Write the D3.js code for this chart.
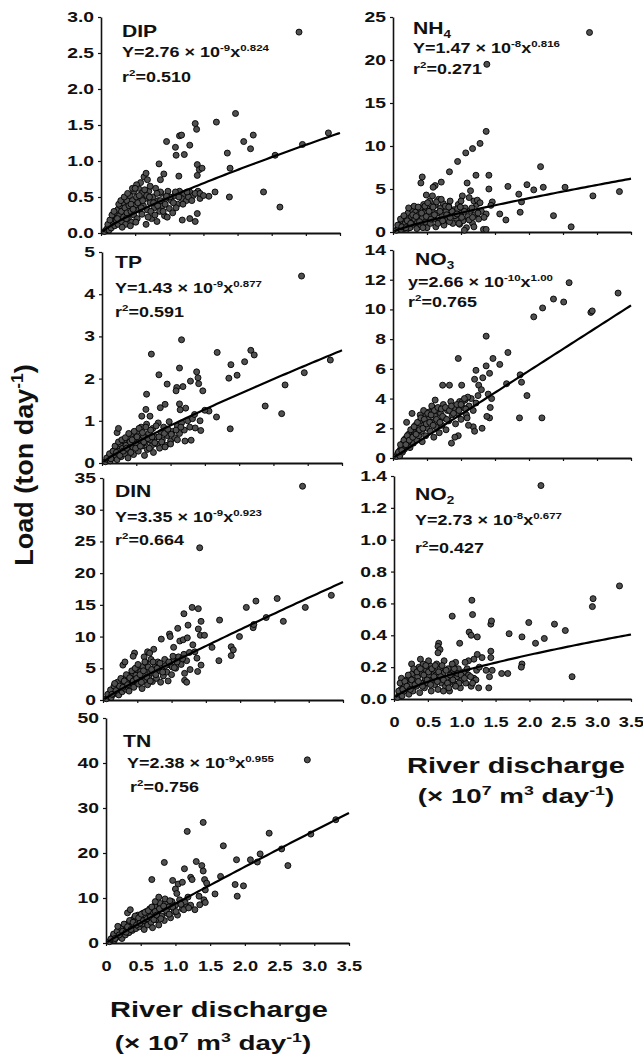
<!DOCTYPE html>
<html>
<head>
<meta charset="utf-8">
<script src="https://cdn.jsdelivr.net/npm/d3@7"></script>
<style>
  body { margin: 0; background: #fff; }
  svg text { font-family: "Liberation Sans", Arial, sans-serif; font-weight: bold; fill: #111; }
</style>
</head>
<body>
<svg id="chart" width="643" height="1054"></svg>
<script>
// ---- data: [discharge (x10^7 m3/day), load (ton/day)] ----
const dipPoints = [
  [0.05,0.02],[0.08,0.05],[0.10,0.08],[0.12,0.04],[0.14,0.12],[0.15,0.07],[0.18,0.15],[0.18,0.22],[0.20,0.10],[0.22,0.28],
  [0.22,0.18],[0.25,0.33],[0.25,0.12],[0.27,0.24],[0.28,0.38],[0.30,0.16],[0.30,0.30],[0.32,0.42],[0.33,0.22],[0.35,0.35],
  [0.36,0.12],[0.38,0.45],[0.38,0.28],[0.40,0.20],[0.41,0.38],[0.42,0.52],[0.44,0.30],[0.45,0.15],[0.46,0.45],[0.48,0.58],
  [0.48,0.25],[0.50,0.38],[0.52,0.50],[0.53,0.20],[0.55,0.62],[0.55,0.32],[0.57,0.44],[0.58,0.70],[0.60,0.26],[0.60,0.55],
  [0.62,0.38],[0.63,0.78],[0.65,0.48],[0.66,0.12],[0.68,0.32],[0.70,0.58],[0.72,0.42],[0.74,0.20],[0.76,0.50],[0.78,0.35],
  [0.80,0.62],[0.82,0.16],[0.84,0.45],[0.86,0.30],[0.88,0.55],[0.90,0.38],[0.93,0.24],[0.95,0.48],[0.98,0.58],[1.00,0.34],
  [1.03,0.45],[1.05,0.28],[1.08,0.52],[1.12,0.40],[1.15,0.58],[1.18,0.48],[1.22,0.55],[1.25,0.45],[1.30,0.57],[1.35,0.52],
  [1.42,0.58],[1.45,0.48],[0.46,0.62],[0.52,0.67],
  [0.10,0.12],[0.13,0.18],[0.16,0.25],[0.19,0.30],[0.24,0.20],[0.26,0.40],[0.29,0.45],[0.31,0.08],[0.34,0.50],[0.37,0.20],
  [0.39,0.55],[0.43,0.10],[0.44,0.40],[0.47,0.33],[0.50,0.62],[0.51,0.15],[0.54,0.42],[0.56,0.52],[0.59,0.35],[0.61,0.45],
  [0.64,0.60],[0.67,0.52],[0.69,0.22],[0.71,0.50],[0.73,0.30],[0.77,0.42],[0.79,0.25],[0.83,0.38],[0.87,0.45],[0.91,0.30],
  [0.94,0.40],[0.97,0.22],[1.01,0.50],[1.06,0.42],[1.10,0.35],[1.14,0.50],[1.20,0.40],[1.28,0.50],[1.33,0.45],[1.38,0.55],
  [2.90,2.79],[3.33,1.39],[2.95,1.23],[2.55,1.08],[1.97,1.66],[1.69,1.54],[2.23,1.36],[2.09,1.27],[2.19,1.17],[1.85,1.11],
  [1.89,0.90],[2.38,0.57],[2.62,0.36],[1.88,0.50],[1.67,0.57],[1.58,0.51],[1.38,1.52],[1.40,1.44],[1.30,1.22],[1.15,1.35],
  [1.18,1.36],[0.96,1.27],[1.09,1.19],[1.10,1.08],[1.22,1.09],[0.85,0.96],[1.41,0.95],[1.44,0.88],[1.48,0.90],[1.41,0.80],
  [1.14,0.79],[0.92,0.82],[0.87,0.74],[0.66,0.83],[0.68,0.74],[0.72,0.65],[1.41,0.27],[1.30,0.20],[1.38,0.16],[1.19,0.18],
  [1.45,0.55],[1.50,0.52],[1.26,0.57],[1.09,0.57],[0.96,0.51],[0.87,0.57],[0.82,0.55]
];
const nh4Points = [
  [0.05,0.2],[0.08,0.5],[0.10,0.9],[0.12,0.3],[0.14,1.3],[0.15,0.6],[0.18,1.0],[0.20,1.6],[0.20,0.3],[0.22,2.2],
  [0.24,1.2],[0.25,0.5],[0.27,1.8],[0.28,2.6],[0.30,0.9],[0.32,1.5],[0.33,2.3],[0.35,0.4],[0.36,1.1],[0.38,2.0],
  [0.40,2.7],[0.41,0.8],[0.43,1.6],[0.45,3.2],[0.46,2.3],[0.48,1.2],[0.50,0.5],[0.50,2.8],[0.52,1.9],[0.54,3.6],
  [0.55,1.0],[0.57,2.5],[0.58,4.2],[0.60,1.5],[0.62,3.1],[0.63,0.6],[0.65,2.2],[0.67,3.8],[0.68,1.2],[0.70,2.8],
  [0.72,1.8],[0.74,3.3],[0.75,0.8],[0.78,2.4],[0.80,1.4],[0.82,3.0],[0.85,2.0],[0.88,1.0],[0.90,2.6],[0.93,1.6],
  [0.96,3.2],[0.98,0.9],[1.00,2.2],[1.03,1.3],[1.06,2.8],[1.08,0.5],[1.10,1.8],[1.14,2.5],[1.17,1.0],[1.20,2.0],
  [1.23,3.2],[1.26,1.5],[1.30,2.4],[1.33,0.3],
  [0.07,0.8],[0.11,1.5],[0.13,0.6],[0.16,1.9],[0.19,0.5],[0.21,1.3],[0.23,2.8],[0.26,1.0],[0.29,2.0],[0.31,3.0],
  [0.34,1.8],[0.37,2.9],[0.39,1.2],[0.42,2.2],[0.44,0.5],[0.47,3.0],[0.49,1.8],[0.51,3.4],[0.53,2.4],[0.56,1.5],
  [0.59,2.9],[0.61,2.0],[0.64,3.5],[0.66,1.0],[0.69,2.4],[0.71,3.8],[0.73,1.3],[0.77,3.0],[0.79,2.0],[0.83,1.2],
  [0.87,2.4],[0.91,1.9],[0.95,2.7],[1.01,1.7],[1.05,2.4],[1.12,1.4],[1.16,2.8],[1.25,2.2],
  [2.89,23.2],[1.38,19.5],[1.37,11.7],[1.28,10.3],[1.17,9.7],[1.07,9.2],[0.95,8.2],[0.83,7.0],[0.71,5.8],[0.62,5.4],
  [0.59,5.2],[0.43,6.4],[0.41,5.7],[0.49,4.3],[1.22,6.6],[1.41,6.6],[1.41,5.0],[1.09,5.7],[1.14,4.8],[1.69,5.3],
  [1.97,5.5],[2.07,4.9],[2.21,5.2],[2.17,7.6],[2.53,5.2],[2.94,4.2],[3.33,4.7],[1.85,4.4],[1.89,3.5],[1.87,2.3],
  [1.57,2.1],[1.66,1.4],[2.36,1.9],[2.62,0.6],[1.37,0.3],[1.46,3.5],[1.44,3.1],[1.37,2.1],[1.34,1.7],[1.02,4.2],
  [1.00,3.6],[1.12,4.0],[1.19,3.6],[1.24,3.7],[1.28,3.4],[0.84,3.6],[0.82,2.9],[0.99,2.9],[0.94,2.1],[0.84,1.7],
  [1.17,1.7],[1.19,0.6],[0.97,1.0],[1.05,0.2]
];
const tpPoints = [
  [0.05,0.03],[0.08,0.08],[0.10,0.15],[0.12,0.05],[0.14,0.22],[0.15,0.12],[0.18,0.30],[0.20,0.18],[0.22,0.38],[0.22,0.08],
  [0.25,0.28],[0.27,0.45],[0.28,0.15],[0.30,0.35],[0.32,0.52],[0.33,0.22],[0.35,0.42],[0.37,0.60],[0.38,0.12],[0.40,0.30],
  [0.41,0.50],[0.43,0.68],[0.45,0.38],[0.46,0.20],[0.48,0.58],[0.50,0.45],[0.52,0.75],[0.53,0.28],[0.55,0.55],[0.57,0.85],
  [0.58,0.40],[0.60,0.65],[0.62,0.18],[0.63,0.48],[0.65,0.92],[0.66,0.32],[0.68,0.70],[0.70,0.55],[0.72,0.40],[0.74,0.82],
  [0.75,0.25],[0.78,0.62],[0.80,0.45],[0.82,0.95],[0.84,0.35],[0.86,0.72],[0.88,0.55],[0.90,0.85],[0.93,0.42],[0.95,0.65],
  [0.98,0.98],[1.00,0.52],[1.03,0.75],[1.06,0.60],[1.10,0.88],[1.13,0.70],[1.16,0.95],[1.20,0.78],[1.25,1.00],[1.28,0.85],
  [1.32,1.05],[0.22,0.72],[0.24,0.82],
  [0.07,0.12],[0.11,0.22],[0.13,0.10],[0.16,0.28],[0.19,0.40],[0.21,0.25],[0.24,0.50],[0.26,0.18],[0.29,0.55],[0.31,0.28],
  [0.34,0.60],[0.36,0.35],[0.39,0.70],[0.42,0.25],[0.44,0.55],[0.47,0.75],[0.49,0.35],[0.51,0.62],[0.54,0.82],[0.56,0.40],
  [0.59,0.72],[0.61,0.50],[0.64,0.85],[0.67,0.58],[0.69,0.35],[0.71,0.78],[0.73,0.62],[0.77,0.48],[0.79,0.88],[0.83,0.62],
  [0.87,0.50],[0.91,0.70],[0.96,0.80],[1.01,0.68],[1.08,0.78],[1.15,0.85],
  [2.91,4.43],[1.16,2.92],[0.72,2.58],[1.68,2.62],[2.17,2.67],[2.22,2.56],[3.33,2.44],[2.08,2.40],[1.88,2.33],[2.95,2.14],
  [1.97,2.08],[1.85,2.01],[0.83,2.09],[1.13,2.25],[1.38,2.16],[1.40,2.02],[1.41,1.88],[1.29,1.94],[1.18,1.81],[1.09,1.79],
  [1.08,1.71],[0.95,1.87],[1.47,1.71],[0.65,1.63],[0.92,1.39],[0.85,1.31],[1.13,1.40],[1.22,1.30],[1.14,1.26],[0.64,1.27],
  [0.58,1.11],[0.70,1.11],[2.67,1.85],[2.38,1.35],[2.62,1.17],[1.67,1.09],[1.87,0.81],[1.56,1.23],[1.43,1.00],[1.44,0.77],
  [1.36,0.83],[1.30,0.54],[1.21,0.52],[1.10,0.55],[1.00,0.45],[0.92,0.38],[1.50,1.25],[1.35,1.15]
];
const no3Points = [
  [0.05,0.1],[0.07,0.3],[0.10,0.5],[0.10,0.15],[0.12,0.7],[0.14,0.4],[0.15,1.0],[0.17,0.6],[0.18,1.3],[0.20,0.8],
  [0.22,1.1],[0.23,1.6],[0.25,0.7],[0.27,1.4],[0.28,1.9],[0.30,1.0],[0.32,1.7],[0.33,2.2],[0.35,1.2],[0.37,2.0],
  [0.38,1.5],[0.40,2.5],[0.42,1.8],[0.43,1.1],[0.45,2.2],[0.47,2.8],[0.48,1.5],[0.50,2.0],[0.52,2.6],[0.53,3.1],
  [0.55,1.8],[0.57,2.4],[0.58,3.4],[0.60,1.4],[0.62,2.8],[0.63,2.1],[0.65,3.2],[0.67,2.5],[0.68,1.7],[0.70,3.0],
  [0.72,2.2],[0.74,3.6],[0.75,2.7],[0.78,1.9],[0.80,3.2],[0.82,2.5],[0.85,3.8],[0.87,2.9],[0.90,3.4],[0.92,2.3],
  [0.95,3.0],[0.98,3.8],[1.00,2.6],[1.03,3.4],[1.06,3.9],[1.08,2.9],[1.12,3.5],[1.15,4.0],[1.18,3.2],[1.22,3.7],
  [0.57,3.5],[0.62,3.9],[0.28,3.0],[0.20,2.4],[0.40,2.9],[0.45,3.2],
  [0.08,0.4],[0.11,0.9],[0.13,0.5],[0.16,1.2],[0.19,0.9],[0.21,1.5],[0.24,1.2],[0.26,1.9],[0.29,1.4],[0.31,2.1],
  [0.34,1.6],[0.36,2.4],[0.39,1.9],[0.41,2.7],[0.44,2.0],[0.46,2.6],[0.49,2.3],[0.51,3.0],[0.54,2.4],[0.56,2.9],
  [0.59,2.2],[0.61,3.2],[0.64,2.6],[0.66,3.4],[0.69,2.4],[0.71,3.3],[0.73,2.8],[0.77,3.4],[0.79,2.6],[0.83,3.2],
  [0.86,3.5],[0.89,3.0],[0.94,3.6],[0.97,3.2],[1.02,3.8],[1.07,3.3],[1.10,4.1],
  [2.59,11.8],[3.31,11.1],[2.36,10.7],[2.51,10.5],[2.20,10.1],[2.07,9.5],[2.91,9.8],[2.93,9.9],[1.37,8.2],[0.96,6.7],
  [1.69,7.1],[1.47,6.7],[1.57,6.3],[1.22,5.9],[1.37,6.2],[1.42,5.7],[1.32,5.4],[1.20,5.3],[1.26,4.9],[0.73,4.9],
  [0.83,4.9],[1.01,4.9],[1.67,5.0],[1.87,5.6],[1.89,5.1],[1.97,4.2],[1.86,2.7],[2.19,2.7],[1.31,2.0],[1.43,3.4],
  [1.42,2.7],[1.38,2.8],[1.18,2.1],[1.20,1.8],[1.11,2.2],[1.09,2.7],[0.96,1.5],[0.86,1.0],[0.91,1.4],[1.40,4.3],
  [1.30,4.6],[1.45,4.0],[1.25,4.2],[1.05,4.0],[1.00,3.6]
];
const dinPoints = [
  [0.05,0.2],[0.08,0.6],[0.10,1.0],[0.12,0.4],[0.14,1.5],[0.15,0.9],[0.18,2.0],[0.20,1.2],[0.22,2.6],[0.23,0.8],
  [0.25,1.8],[0.27,3.0],[0.28,1.3],[0.30,2.4],[0.32,3.4],[0.33,1.7],[0.35,2.9],[0.37,3.8],[0.38,1.4],[0.40,2.3],
  [0.41,3.3],[0.43,4.3],[0.45,2.0],[0.46,3.0],[0.48,3.9],[0.50,4.8],[0.52,2.5],[0.53,3.5],[0.55,4.5],[0.57,1.8],
  [0.58,5.3],[0.60,3.0],[0.62,4.0],[0.63,5.8],[0.65,2.4],[0.67,3.5],[0.68,4.8],[0.70,6.4],[0.72,2.9],[0.74,4.2],
  [0.76,5.5],[0.78,3.4],[0.80,6.0],[0.82,4.6],[0.84,2.8],[0.86,5.2],[0.88,3.8],[0.90,6.4],[0.93,4.4],[0.95,3.0],
  [0.98,5.5],[1.00,4.0],[1.03,6.3],[1.06,5.0],[1.10,6.8],[1.14,5.6],[1.18,7.2],[1.22,6.2],[1.26,7.5],[0.60,6.8],
  [0.65,7.6],
  [0.07,0.9],[0.11,1.6],[0.13,0.9],[0.16,2.2],[0.19,1.5],[0.21,2.8],[0.24,2.2],[0.26,3.4],[0.29,2.0],[0.31,3.0],
  [0.34,4.0],[0.36,2.4],[0.39,3.5],[0.42,4.6],[0.44,3.0],[0.47,5.0],[0.49,3.4],[0.51,5.6],[0.54,4.0],[0.56,2.8],
  [0.59,4.6],[0.61,6.0],[0.64,3.6],[0.66,5.2],[0.69,3.0],[0.71,4.8],[0.73,6.0],[0.77,4.0],[0.79,5.0],[0.83,5.8],
  [0.87,4.4],[0.91,5.4],[0.96,6.0],[1.01,5.2],[1.08,6.0],[1.16,6.5],
  [2.91,33.7],[1.41,24.0],[3.33,16.5],[2.54,16.0],[2.95,14.6],[2.23,15.6],[2.09,14.6],[1.70,12.6],[2.63,12.4],[2.38,13.0],
  [2.19,11.4],[2.20,11.9],[1.30,14.6],[1.39,14.4],[1.18,13.6],[1.24,11.8],[1.09,11.3],[0.97,10.4],[0.98,10.0],[0.85,9.6],
  [1.12,9.3],[1.17,9.5],[1.23,9.8],[1.39,11.2],[1.43,12.4],[1.42,10.2],[1.48,10.2],[1.99,10.0],[1.87,8.4],[1.90,7.9],
  [1.59,8.3],[1.69,6.2],[1.87,7.0],[1.31,8.7],[1.34,7.6],[1.37,6.6],[1.43,5.5],[1.38,4.5],[1.03,8.3],[1.02,6.9],
  [1.04,5.1],[1.19,4.2],[1.19,3.1],[1.22,2.8],[0.74,8.0],[0.68,7.4],[0.46,7.4],[0.44,6.9],[0.29,5.5],[0.32,6.0],
  [0.17,2.6],[1.27,4.8]
];
const no2Points = [
  [0.05,0.01],[0.08,0.03],[0.10,0.06],[0.12,0.02],[0.14,0.09],[0.15,0.05],[0.18,0.12],[0.20,0.07],[0.22,0.03],[0.23,0.14],
  [0.25,0.09],[0.27,0.16],[0.28,0.05],[0.30,0.12],[0.32,0.18],[0.33,0.08],[0.35,0.14],[0.37,0.20],[0.38,0.04],[0.40,0.10],
  [0.41,0.16],[0.43,0.22],[0.45,0.07],[0.46,0.13],[0.48,0.18],[0.50,0.10],[0.52,0.15],[0.53,0.21],[0.55,0.05],[0.57,0.12],
  [0.58,0.18],[0.60,0.09],[0.62,0.15],[0.63,0.22],[0.65,0.06],[0.67,0.12],[0.68,0.19],[0.70,0.10],[0.72,0.16],[0.74,0.24],
  [0.76,0.08],[0.78,0.13],[0.80,0.19],[0.82,0.05],[0.84,0.11],[0.86,0.16],[0.88,0.22],[0.90,0.09],[0.93,0.14],[0.95,0.19],
  [0.98,0.07],[1.00,0.12],[1.03,0.17],[1.06,0.10],[1.10,0.15],[1.14,0.08],[1.18,0.13],[1.22,0.18],[0.26,0.22],[0.39,0.25],
  [0.51,0.24],[0.11,0.13],
  [0.07,0.05],[0.09,0.10],[0.13,0.06],[0.16,0.11],[0.19,0.08],[0.21,0.15],[0.24,0.06],[0.26,0.12],[0.29,0.19],[0.31,0.09],
  [0.34,0.17],[0.36,0.11],[0.39,0.19],[0.42,0.08],[0.44,0.15],[0.47,0.21],[0.49,0.12],[0.51,0.17],[0.54,0.09],[0.56,0.19],
  [0.59,0.14],[0.61,0.21],[0.64,0.11],[0.66,0.17],[0.69,0.14],[0.71,0.21],[0.73,0.12],[0.77,0.18],[0.79,0.10],[0.83,0.15],
  [0.87,0.12],[0.89,0.19],[0.94,0.16],[0.99,0.15],[1.04,0.13],[1.08,0.19],[1.13,0.14],
  [2.17,1.34],[3.33,0.71],[2.94,0.63],[2.93,0.58],[1.15,0.62],[1.16,0.53],[0.86,0.52],[1.99,0.48],[2.37,0.47],[2.53,0.43],
  [1.70,0.41],[1.43,0.47],[1.44,0.49],[1.11,0.42],[1.14,0.40],[1.23,0.39],[0.97,0.35],[1.89,0.39],[2.09,0.35],[2.22,0.38],
  [2.63,0.14],[1.89,0.22],[1.88,0.20],[1.59,0.16],[1.68,0.16],[1.25,0.07],[1.40,0.07],[0.66,0.35],[0.65,0.33],[0.68,0.31],
  [0.65,0.29],[1.43,0.30],[1.43,0.26],[1.30,0.26],[1.23,0.28],[1.18,0.25],[1.10,0.24],[1.05,0.23],[0.91,0.23],[0.86,0.22],
  [1.26,0.20],[1.36,0.18],[1.45,0.18],[1.41,0.14],[1.21,0.12],[1.16,0.10],[0.96,0.10],[0.91,0.08],[0.81,0.07],[0.73,0.05]
];
const tnPoints = [
  [0.05,0.3],[0.08,0.8],[0.10,1.4],[0.12,0.6],[0.14,2.0],[0.15,1.2],[0.18,2.6],[0.20,1.6],[0.22,3.2],[0.23,1.0],
  [0.25,2.3],[0.27,3.8],[0.28,1.8],[0.30,3.0],[0.32,4.4],[0.33,2.3],[0.35,3.6],[0.37,5.0],[0.38,2.8],[0.40,4.2],
  [0.41,5.6],[0.43,3.2],[0.45,4.8],[0.46,6.2],[0.48,3.6],[0.50,5.4],[0.52,4.2],[0.53,6.6],[0.55,3.0],[0.57,5.0],
  [0.58,7.0],[0.60,4.0],[0.62,6.0],[0.63,7.6],[0.65,4.6],[0.67,3.4],[0.68,6.6],[0.70,8.2],[0.72,5.2],[0.74,7.0],
  [0.76,4.0],[0.78,8.8],[0.80,6.0],[0.82,7.6],[0.84,5.0],[0.86,9.0],[0.88,6.6],[0.90,8.0],[0.93,5.6],[0.95,9.2],
  [0.98,7.0],[1.00,8.4],[1.03,6.2],[1.06,9.6],[1.10,7.6],[1.14,9.0],[1.18,10.2],[1.22,8.4],
  [0.07,0.9],[0.11,2.0],[0.13,1.0],[0.16,2.6],[0.19,1.8],[0.21,3.4],[0.24,2.6],[0.26,4.2],[0.29,2.4],[0.31,3.6],
  [0.34,5.0],[0.36,3.0],[0.39,4.6],[0.42,6.0],[0.44,4.0],[0.47,5.6],[0.49,4.4],[0.51,6.4],[0.54,5.0],[0.56,6.8],
  [0.59,5.4],[0.61,7.2],[0.64,5.8],[0.66,8.0],[0.69,5.2],[0.71,7.0],[0.73,6.2],[0.77,7.6],[0.79,5.4],[0.83,8.2],
  [0.87,7.2],[0.91,6.4],[0.96,8.0],[1.01,7.0],[1.08,8.6],[1.16,8.0],
  [2.90,40.7],[1.40,26.8],[1.17,24.8],[2.35,24.4],[3.31,27.4],[2.95,24.2],[1.69,21.6],[2.53,20.9],[2.62,17.2],[0.84,17.9],
  [1.30,18.1],[1.38,17.2],[1.40,16.0],[1.13,16.5],[1.88,18.5],[2.08,18.5],[2.22,19.8],[2.18,18.0],[0.66,14.1],[0.96,13.9],
  [1.04,13.1],[1.10,13.5],[1.22,14.6],[1.24,14.1],[1.42,14.1],[1.45,13.3],[1.43,11.8],[1.57,10.9],[1.86,13.0],[1.89,10.4],
  [1.98,12.7],[1.00,12.0],[1.02,11.0],[0.71,9.2],[0.85,9.8],[0.92,9.4],[1.12,7.4],[1.19,7.8],[1.28,7.4],[1.35,8.5],
  [1.41,9.6],[1.43,9.0],[1.34,10.4],[1.65,14.8],[0.17,3.7],[0.31,6.7],[0.35,7.4],[0.76,10.2]
];

// tick values
const xTicks = [0, 0.5, 1.0, 1.5, 2.0, 2.5, 3.0, 3.5];
const dipTicks = [0, 0.5, 1.0, 1.5, 2.0, 2.5, 3.0];
const nh4Ticks = [0, 5, 10, 15, 20, 25];
const tpTicks = [0, 1, 2, 3, 4, 5];
const no3Ticks = [0, 2, 4, 6, 8, 10, 12, 14];
const dinTicks = [0, 5, 10, 15, 20, 25, 30, 35];
const no2Ticks = [0, 0.2, 0.4, 0.6, 0.8, 1.0, 1.2, 1.4];
const tnTicks = [0, 10, 20, 30, 40, 50];

// regression: [exponent, fitted load at x = 3.5 as drawn]
const dipFit = [0.824, 1.39];
const nh4Fit = [0.816, 6.2];
const tpFit = [0.877, 2.67];
const no3Fit = [1.00, 10.27];
const dinFit = [0.923, 18.6];
const no2Fit = [0.677, 0.405];
const tnFit = [0.955, 28.9];

// equation text: [Y letter, coefficient, power of ten, exponent, r2]
const dipEq = ['Y', '2.76', '-9', '0.824', '0.510'];
const nh4Eq = ['Y', '1.47', '-8', '0.816', '0.271'];
const tpEq = ['Y', '1.43', '-9', '0.877', '0.591'];
const no3Eq = ['y', '2.66', '-10', '1.00', '0.765'];
const dinEq = ['Y', '3.35', '-9', '0.923', '0.664'];
const no2Eq = ['Y', '2.73', '-8', '0.677', '0.427'];
const tnEq = ['Y', '2.38', '-9', '0.955', '0.756'];

const SX = 1.32; // the scanned lettering is wide

const panels = [
  { pts: dipPoints, ticks: dipTicks, fmt: '.1f', fit: dipFit, eq: dipEq, name: [['DIP']],
    xr: [101, 340], yr: [233, 17], tp: [[122, 37], [122, 57], [122, 82]], xlab: false },
  { pts: nh4Points, ticks: nh4Ticks, fmt: 'd', fit: nh4Fit, eq: nh4Eq, name: [['NH'], ['4', 'sub']],
    xr: [393, 631], yr: [232, 17], tp: [[413, 34], [413, 53], [413, 74]], xlab: false },
  { pts: tpPoints, ticks: tpTicks, fmt: 'd', fit: tpFit, eq: tpEq, name: [['TP']],
    xr: [102, 342], yr: [463, 252], tp: [[115, 268], [115, 293], [115, 317]], xlab: false },
  { pts: no3Points, ticks: no3Ticks, fmt: 'd', fit: no3Fit, eq: no3Eq, name: [['NO'], ['3', 'sub']],
    xr: [393, 631], yr: [458, 250], tp: [[415, 265], [408, 287], [408, 307]], xlab: false },
  { pts: dinPoints, ticks: dinTicks, fmt: 'd', fit: dinFit, eq: dinEq, name: [['DIN']],
    xr: [103, 343], yr: [700, 478], tp: [[115, 497], [115, 522], [115, 545]], xlab: false },
  { pts: no2Points, ticks: no2Ticks, fmt: '.1f', fit: no2Fit, eq: no2Eq, name: [['NO'], ['2', 'sub']],
    xr: [394, 631], yr: [699, 476], tp: [[415, 500], [415, 525], [415, 553]], xlab: true },
  { pts: tnPoints, ticks: tnTicks, fmt: 'd', fit: tnFit, eq: tnEq, name: [['TN']],
    xr: [106, 349], yr: [943, 718], tp: [[123, 747], [127, 768], [130, 792]], xlab: true }
];

const svg = d3.select('#chart');

// text with sup/sub parts, stretched horizontally like the scan
function richText(parent, x, y, parts, size, anchor, rot, sx, sy) {
  const t = parent.append('text')
    .attr('transform', `translate(${x},${y})` + (rot ? ` rotate(${rot})` : '') + ` scale(${sx || SX},${sy || 1})`)
    .attr('text-anchor', anchor || 'start')
    .style('font-size', size + 'px');
  let shift = 0;
  parts.forEach(([s, k]) => {
    const target = k === 'sup' ? -size * 0.4 : k === 'sub' ? size * 0.25 : 0;
    t.append('tspan')
      .attr('dy', target - shift)
      .style('font-size', (k ? size * 0.64 : size) + 'px')
      .text(s);
    shift = target;
  });
  return t;
}

panels.forEach(p => {
  const x = d3.scaleLinear().domain([0, 3.5]).range(p.xr);
  const y = d3.scaleLinear().domain([0, d3.max(p.ticks)]).range(p.yr);
  const g = svg.append('g');

  // y axis
  const ya = g.append('g').attr('transform', `translate(${p.xr[0]},0)`)
    .call(d3.axisLeft(y).tickValues(p.ticks).tickFormat(d3.format(p.fmt)).tickSize(3).tickSizeOuter(0).tickPadding(2));
  ya.select('.domain').attr('stroke', '#111').attr('stroke-width', 1.6);
  ya.selectAll('.tick line').attr('stroke', '#111').attr('stroke-width', 1.2);
  ya.selectAll('.tick text').attr('transform', 'scale(1.38,1)')
    .style('font-size', '14px').style('font-weight', 'bold').attr('fill', '#111');

  // x axis
  const xa = g.append('g').attr('transform', `translate(0,${p.yr[0]})`)
    .call(d3.axisBottom(x).tickValues(xTicks).tickSize(3).tickSizeOuter(0).tickPadding(15)
      .tickFormat(d => p.xlab ? (d === 0 ? '0' : d3.format('.1f')(d)) : ''));
  xa.select('.domain').attr('stroke', '#111').attr('stroke-width', 2);
  xa.selectAll('.tick line').attr('stroke', '#111').attr('stroke-width', 1.2);
  xa.selectAll('.tick text').attr('transform', 'scale(1.3,1)')
    .style('font-size', '14px').style('font-weight', 'bold').attr('fill', '#111');

  // points
  g.append('g').selectAll('circle').data(p.pts).join('circle')
    .attr('cx', d => x(d[0])).attr('cy', d => y(d[1])).attr('r', 3)
    .attr('fill', '#505050').attr('stroke', '#000').attr('stroke-width', 0.9);

  // power-law fit curve
  const k = p.fit[1] / Math.pow(3.5, p.fit[0]);
  const xs = d3.range(0.02, 3.5001, 0.05).concat([3.5]);
  g.append('path')
    .datum(xs)
    .attr('fill', 'none').attr('stroke', '#000').attr('stroke-width', 2.2)
    .attr('d', d3.line().x(d => x(d)).y(d => y(k * Math.pow(d, p.fit[0]))));

  // labels
  const e = p.eq;
  richText(g, p.tp[0][0], p.tp[0][1], p.name, 16);
  richText(g, p.tp[1][0], p.tp[1][1],
    [[e[0] + '=' + e[1] + ' \u00d7 10'], [e[2], 'sup'], ['x'], [e[3], 'sup']], 14.5, 'start', 0, 1.24);
  richText(g, p.tp[2][0], p.tp[2][1], [['r'], ['2', 'sup'], ['=' + e[4]]], 14.5, 'start', 0, 1.24);
});

// axis titles
const unitParts = [['(\u00d7 10'], ['7', 'sup'], [' m'], ['3', 'sup'], [' day'], ['-1', 'sup'], [')']];
richText(svg, 516, 773, [['River discharge']], 22, 'middle');
richText(svg, 516, 803, unitParts, 21, 'middle');
richText(svg, 219, 1017, [['River discharge']], 22, 'middle');
richText(svg, 213, 1050, unitParts, 21, 'middle');
richText(svg, 33, 465, [['Load (ton day'], ['-1', 'sup'], [')']], 20, 'middle', -90, 1.35, 1.3);
</script>
</body>
</html>
